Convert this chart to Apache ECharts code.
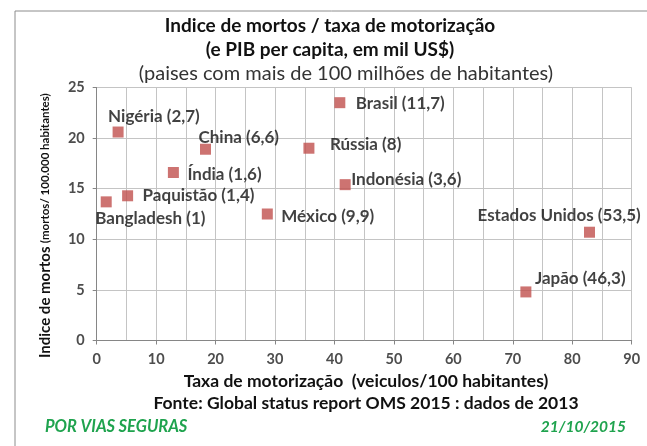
<!DOCTYPE html>
<html><head><meta charset="utf-8">
<script src="https://cdn.jsdelivr.net/npm/echarts@6/dist/echarts.min.js"></script>
<style>html,body{margin:0;padding:0;background:#fff}#c{width:647px;height:446px}</style>
</head><body><div id="c"></div>
<script>
var countries = ['Bangladesh (1)','Paquistão (1,4)','Nigéria (2,7)','Índia (1,6)','China (6,6)','México (9,9)','Rússia (8)','Brasil (11,7)','Indonésia (3,6)','Estados Unidos (53,5)','Japão (46,3)'];
var motorizacao = [1.6, 5.2, 3.6, 12.9, 18.3, 28.7, 35.7, 40.9, 41.8, 82.9, 72.2];
var mortos = [13.7, 14.3, 20.6, 16.6, 18.9, 12.5, 19.0, 23.5, 15.4, 10.7, 4.8];
var labelOffsets = [[-11,17],[15,0],[-10,-16],[14,2],[-7,-12],[14,3],[21,-4],[16,1],[6,-5],[-112,-17],[9,-13]];
var xTicks = [0,10,20,30,40,50,60,70,80,90];
var yTicks = [0,5,10,15,20,25];

var FONT = 'Lato';
var data = countries.map(function(n,i){
  return {name:n, value:[motorizacao[i], mortos[i]],
    label:{offset:labelOffsets[i]}};
});
var chart = echarts.init(document.getElementById('c'));
chart.setOption({
  animation:false,
  backgroundColor:'#fff',
  textStyle:{fontFamily:FONT},
  grid:{left:96.7, right:15.3, top:87.5, bottom:105.5, containLabel:false},
  xAxis:{type:'value', min:xTicks[0], max:xTicks[xTicks.length-1], interval:10,
    axisLine:{show:true, lineStyle:{color:'#868686'}},
    axisTick:{show:true, length:4, lineStyle:{color:'#868686'}},
    minorTick:{show:false, splitNumber:2},
    splitLine:{show:true, lineStyle:{color:'#c4c4c4'}},
    minorSplitLine:{show:true, lineStyle:{color:'#c4c4c4'}},
    axisLabel:{color:'#4d4d4d', fontWeight:'bold', fontSize:14.5, fontFamily:FONT, margin:11}
  },
  yAxis:{type:'value', min:yTicks[0], max:yTicks[yTicks.length-1], interval:5,
    axisLine:{show:true, lineStyle:{color:'#868686'}},
    axisTick:{show:true, length:4, lineStyle:{color:'#868686'}},
    splitLine:{show:true, lineStyle:{color:'#c4c4c4'}},
    axisLabel:{color:'#4d4d4d', fontWeight:'bold', fontSize:14.5, fontFamily:FONT, margin:12}
  },
  series:[{type:'scatter', symbol:'rect', symbolSize:11,
    itemStyle:{color:'#c0504d'},
    label:{show:true, position:'inside', align:'left', verticalAlign:'middle',
      formatter:'{b}', color:'#111', fontWeight:'bold', fontSize:17, fontFamily:FONT},
    data:data}],
  graphic:[
    {type:'rect', shape:{x:15, y:11, width:700, height:500}, style:{fill:'none', stroke:'#8c8c8c', lineWidth:1}, silent:true},
    {type:'text', x:330, y:26, style:{text:'Indice de mortos / taxa de motorização', font:'bold 19px '+FONT, fill:'#111', align:'center', verticalAlign:'middle'}},
    {type:'text', x:330, y:50, style:{text:'(e PIB per capita, em mil US$)', font:'bold 19px '+FONT, fill:'#111', align:'center', verticalAlign:'middle'}},
    {type:'text', x:346, y:74, style:{text:'(paises com mais de 100 milhões de habitantes)', font:'20px '+FONT, fill:'#333', align:'center', verticalAlign:'middle'}},
    {type:'text', x:45, y:358, rotation:Math.PI/2, style:{text:'{a|Indice de mortos} {b|(mortos/ 100.000 habitantes)}', align:'left', verticalAlign:'middle',
      rich:{a:{font:'bold 15px '+FONT, fill:'#111'}, b:{font:'bold 11.5px '+FONT, fill:'#111'}}}},
    {type:'text', x:366, y:381, style:{text:'Taxa de motorização  (veiculos/100 habitantes)', font:'bold 17.5px '+FONT, fill:'#111', align:'center', verticalAlign:'middle'}},
    {type:'text', x:366, y:403, style:{text:'Fonte: Global status report OMS 2015 : dados de 2013', font:'bold 17.5px '+FONT, fill:'#111', align:'center', verticalAlign:'middle'}},
    {type:'text', x:45, y:427, style:{text:'POR VIAS SEGURAS', font:'italic bold 16.5px '+FONT, fill:'#1fa34e', align:'left', verticalAlign:'middle'}},
    {type:'text', x:626, y:427, style:{text:'21/10/2015', font:'italic bold 15.5px '+FONT, fill:'#1fa34e', align:'right', verticalAlign:'middle'}}
  ]
});
</script></body></html>
